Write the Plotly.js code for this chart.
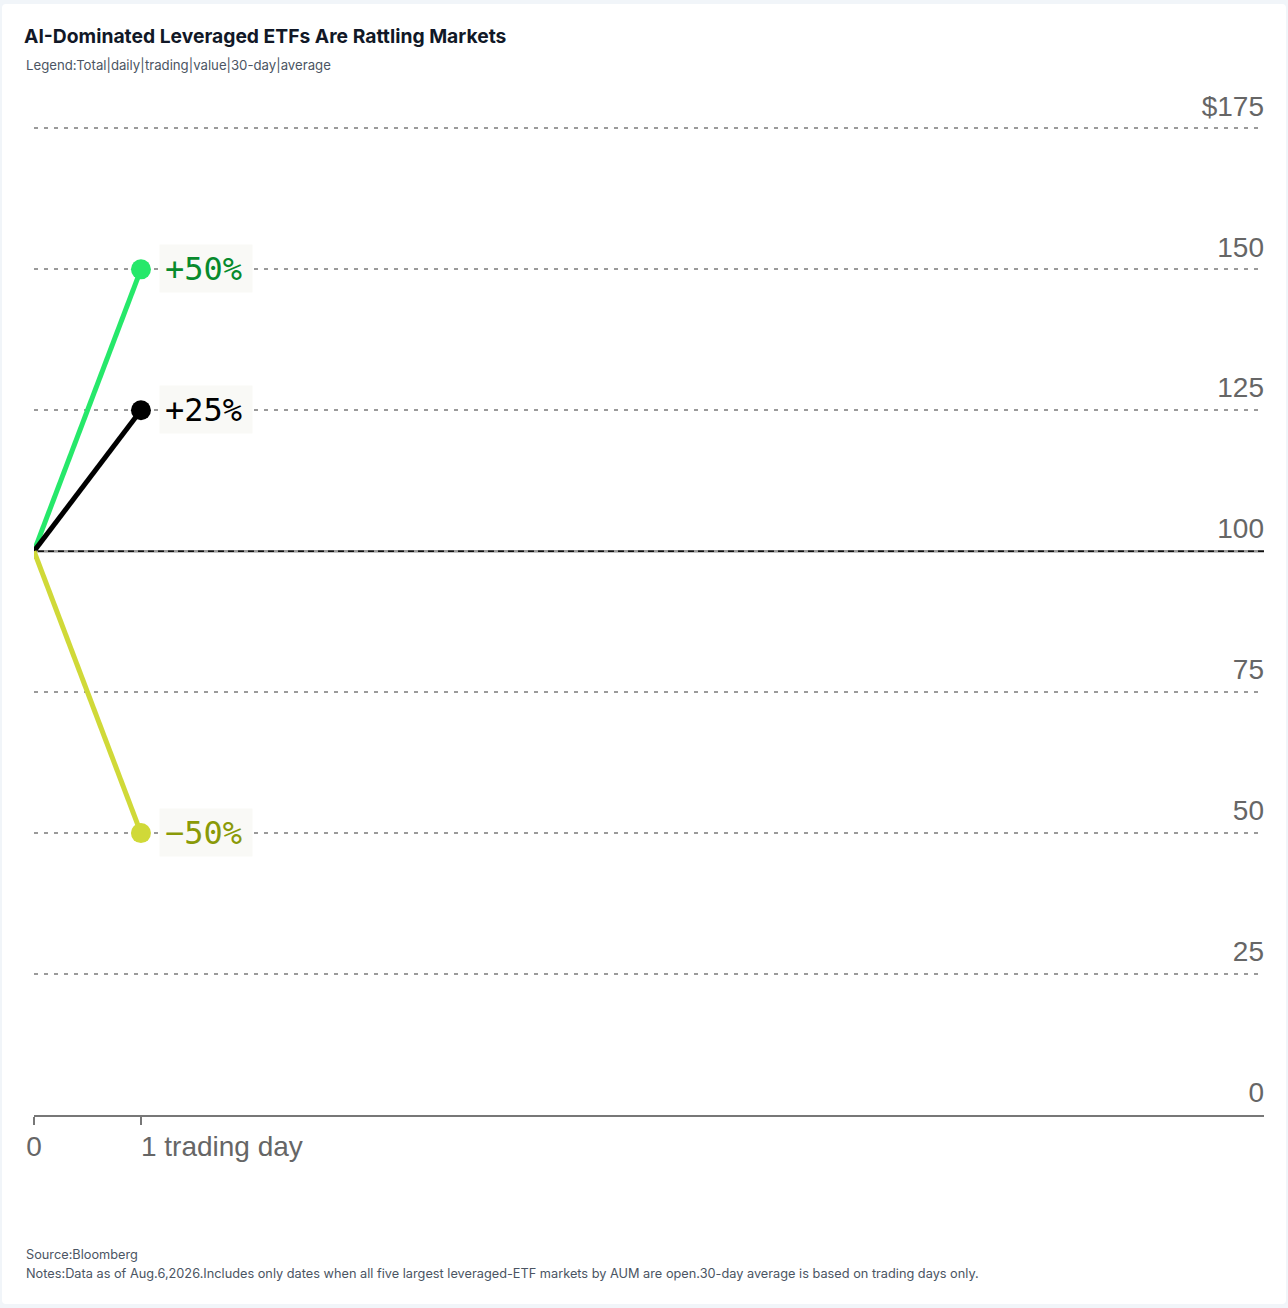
<!DOCTYPE html>
<html>
<head>
<meta charset="utf-8">
<script src="https://cdn.plot.ly/plotly-3.0.1.min.js"></script>
<style>
  body { margin: 0; background: #f1f5f9; }
  #chart { position: absolute; left: 2px; top: 4px; width: 1284px; height: 1300px; background: #fff; border-radius: 4px; }
</style>
</head>
<body>
<div id="chart"></div>
<script>
// values
var days = [0, 1];
var upTwo = [100, 150];
var upOne = [100, 125];
var downTwo = [100, 50];
var seriesNames = ['2x leveraged', 'Underlying', '-2x leveraged'];
var changeLabels = ['+50%', '+25%', '\u221250%'];
var baseValue = 100;
var yTicks = [0, 25, 50, 75, 100, 125, 150, 175];
var yTickText = ['0', '25', '50', '75', '100', '125', '150', '$175'];
var startLabel = '0';
var dayLabel = '1 trading day';

var lineColors = ['#26e86a', '#000000', '#d0d938'];
var textColors = ['#078a2c', '#000000', '#8a9a08'];
var allSeries = [upTwo, upOne, downTwo];

var data = allSeries.map(function (vals, i) {
  return {
    x: days,
    y: vals,
    xaxis: i === 2 ? 'x2' : 'x',
    mode: 'lines+markers',
    name: seriesNames[i],
    line: { color: lineColors[i], width: 5 },
    marker: { color: lineColors[i], size: [0, 20], opacity: 1, line: { width: 0 } },
    hoverinfo: 'skip'
  };
});

var labels = allSeries.map(function (vals, i) {
  return {
    x: days[1], y: vals[1], xref: 'x', yref: 'y',
    text: changeLabels[i],
    showarrow: false,
    xanchor: 'left', yanchor: 'middle',
    xshift: 18, yshift: 1,
    width: 82, height: 37,
    align: 'left', valign: 'middle',
    bgcolor: '#f9f9f6',
    borderpad: 5,
    font: { family: 'DejaVu Sans Mono, monospace', size: 32, color: textColors[i] }
  };
});

var small = { family: 'Inter, sans-serif', size: 13.2, color: '#4b5563' };
var notes = { family: 'Inter, sans-serif', size: 12.75, color: '#4b5563' };

labels.push(
  { xref: 'paper', yref: 'paper', x: -0.0081, y: 1.0067, xanchor: 'left', yanchor: 'middle',
    showarrow: false, text: 'Legend:Total|daily|trading|value|30-day|average', font: small },
  { xref: 'paper', yref: 'paper', x: -0.0081, y: -0.1333, xanchor: 'left', yanchor: 'middle',
    showarrow: false, text: 'Source:Bloomberg', font: notes },
  { xref: 'paper', yref: 'paper', x: -0.0081, y: -0.1515, xanchor: 'left', yanchor: 'middle',
    showarrow: false,
    text: 'Notes:Data as of Aug.6,2026.Includes only dates when all five largest leveraged-ETF markets by AUM are open.30-day average is based on trading days only.',
    font: notes }
);

var tickFont = { family: 'Liberation Sans, Arial, sans-serif', size: 28, color: '#666' };

var layout = {
  width: 1284,
  height: 1300,
  paper_bgcolor: 'rgba(0,0,0,0)',
  plot_bgcolor: 'rgba(0,0,0,0)',
  margin: { l: 32, r: 22, t: 68, b: 189 },
  showlegend: false,
  font: { family: 'Liberation Sans, Arial, sans-serif', color: '#666' },
  title: {
    text: '<b>AI-Dominated Leveraged ETFs Are Rattling Markets</b>',
    xref: 'container', yref: 'container',
    x: 22 / 1284, xanchor: 'left',
    y: 1 - 32 / 1300, yanchor: 'middle',
    font: { family: 'Inter, sans-serif', size: 19.3, color: '#111827' }
  },
  xaxis: {
    range: [0, 11.5],
    tickvals: days,
    ticktext: [startLabel, ''],
    ticks: 'outside', ticklen: 8, tickwidth: 2, tickcolor: '#777',
    ticklabelstandoff: -3,
    tickfont: tickFont,
    showline: true, linecolor: '#777', linewidth: 2,
    showgrid: false, zeroline: false, fixedrange: true
  },
  xaxis2: {
    range: [0, 11.5],
    overlaying: 'x', anchor: 'y', side: 'bottom',
    tickvals: [days[1]],
    ticktext: [dayLabel],
    ticks: '',
    ticklabelposition: 'outside right',
    ticklabelshift: 0,
    ticklabelstandoff: 12,
    tickfont: tickFont,
    showline: false, showgrid: false, zeroline: false, fixedrange: true
  },
  yaxis: {
    range: [0, 185],
    side: 'right',
    tickvals: yTicks,
    ticktext: yTickText,
    ticks: '',
    ticklabelposition: 'inside top',
    ticklabelshift: -3,
    ticklabelstandoff: -3,
    tickfont: tickFont,
    showgrid: true, gridcolor: '#9a9a9a', gridwidth: 2, griddash: '4px,6px',
    zeroline: false, showline: false, fixedrange: true
  },
  shapes: [{
    type: 'line', xref: 'paper', x0: 0, x1: 1, yref: 'y', y0: baseValue, y1: baseValue,
    line: { color: '#111', width: 2 }, layer: 'below'
  }],
  annotations: labels
};

window.addEventListener('load', function () {
  Plotly.newPlot('chart', data, layout, { displayModeBar: false, staticPlot: true });
});
</script>
</body>
</html>
